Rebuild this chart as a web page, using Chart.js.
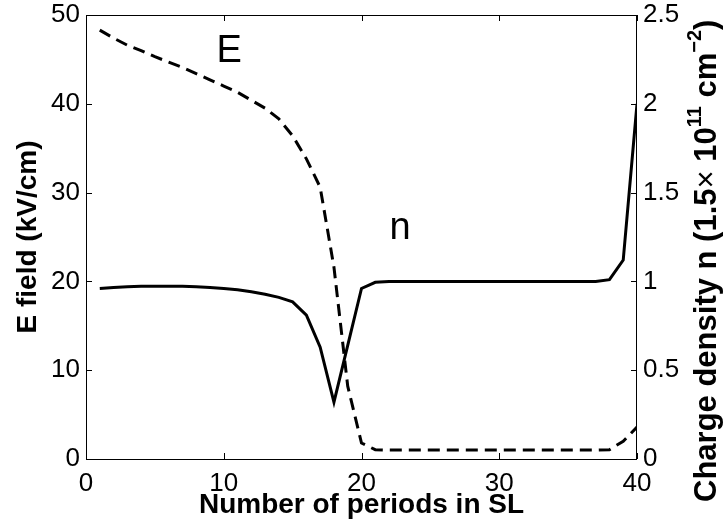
<!DOCTYPE html>
<html>
<head>
<meta charset="utf-8">
<script src="https://cdn.jsdelivr.net/npm/chart.js@4.4.0/dist/chart.umd.min.js"></script>
<style>
    body { margin: 0; padding: 0; background: #fff; overflow: hidden; }
</style>
</head>
<body>
<canvas id="chartCanvas" width="723" height="529"></canvas>
<script>
// Values, one point per SL period
const periods = [1, 2, 3, 4, 5, 6, 7, 8, 9, 10, 11, 12, 13, 14, 15, 16, 17, 18, 19, 20,
    21, 22, 23, 24, 25, 26, 27, 28, 29, 30, 31, 32, 33, 34, 35, 36, 37, 38, 39, 40];

// E field, kV/cm (left axis)
const eField = [48.3, 47.4, 46.6, 46.0, 45.3, 44.7, 44.1, 43.4, 42.7, 42.0,
    41.3, 40.4, 39.5, 38.3, 36.4, 33.8, 30.6, 21.6, 8.2, 1.8,
    1.05, 1.0, 1.0, 1.0, 1.0, 1.0, 1.0, 1.0, 1.0, 1.0,
    1.0, 1.0, 1.0, 1.0, 1.0, 1.0, 1.0, 1.05, 2.0, 3.6];

// charge density n, units of 1.5e11 cm^-2 (right axis)
const chargeDensity = [0.960, 0.965, 0.970, 0.972, 0.973, 0.973, 0.972, 0.970, 0.966, 0.960,
    0.953, 0.942, 0.928, 0.910, 0.885, 0.810, 0.630, 0.320, 0.640, 0.960,
    0.995, 1.0, 1.0, 1.0, 1.0, 1.0, 1.0, 1.0, 1.0, 1.0,
    1.0, 1.0, 1.0, 1.0, 1.0, 1.0, 1.0, 1.01, 1.12, 2.0];

const xTicks = [0, 10, 20, 30, 40];
const leftTicks = [0, 10, 20, 30, 40, 50];
const rightTicks = [0, 0.5, 1, 1.5, 2, 2.5];

// where the curve names sit, in data units
const eLabel = { x: 10.4, y: 45.9, text: 'E' };
const nLabel = { x: 22.8, y: 26.0, text: 'n' };

const FONT = '"Liberation Sans", Arial, Helvetica, sans-serif';

const setTicks = (values) => (scale) => {
    scale.ticks = values.map((v) => ({ value: v }));
};

// fixed axis sizes so the plot box lands where it is in the figure
const fitWidth = (w) => (scale) => {
    scale.width = w;
    scale.paddingTop = 0;
    scale.paddingBottom = 0;
};

// box, inward tick marks, curve names and the right axis title
const framePlugin = {
    id: 'frame',
    afterDraw(chart) {
        const { ctx, chartArea: a, scales } = chart;
        const len = 6;
        ctx.save();
        ctx.strokeStyle = '#000';
        ctx.lineWidth = 1;
        ctx.strokeRect(a.left + 0.5, a.top + 0.5, a.right - a.left - 1, a.bottom - a.top);

        ctx.beginPath();
        xTicks.forEach((v) => {
            const px = Math.round(scales.x.getPixelForValue(v)) + 0.5;
            ctx.moveTo(px, a.bottom);
            ctx.lineTo(px, a.bottom - len);
            ctx.moveTo(px, a.top);
            ctx.lineTo(px, a.top + len);
        });
        leftTicks.forEach((v) => {
            const py = Math.round(scales.y.getPixelForValue(v)) + 0.5;
            ctx.moveTo(a.left, py);
            ctx.lineTo(a.left + len, py);
        });
        rightTicks.forEach((v) => {
            const py = Math.round(scales.y2.getPixelForValue(v)) + 0.5;
            ctx.moveTo(a.right, py);
            ctx.lineTo(a.right - len, py);
        });
        ctx.stroke();

        ctx.fillStyle = '#000';
        ctx.textAlign = 'center';
        ctx.textBaseline = 'middle';
        ctx.font = '38px ' + FONT;
        [eLabel, nLabel].forEach((l) => {
            ctx.fillText(l.text, scales.x.getPixelForValue(l.x), scales.y.getPixelForValue(l.y));
        });

        // right title, rotated, with superscripts
        const parts = [
            { t: 'Charge density n (1.5', f: 'bold 31px ' + FONT, up: 0 },
            { t: '\u00D7', f: '31px ' + FONT, up: 0 },
            { t: ' 10', f: 'bold 31px ' + FONT, up: 0 },
            { t: '11', f: 'bold 20px ' + FONT, up: 12 },
            { t: ' cm', f: 'bold 31px ' + FONT, up: 0 },
            { t: '\u22122', f: 'bold 20px ' + FONT, up: 12 },
            { t: ')', f: 'bold 31px ' + FONT, up: 0 },
        ];
        ctx.translate(707, 502);
        ctx.rotate(-Math.PI / 2);
        ctx.textAlign = 'left';
        let pos = 0;
        parts.forEach((p) => {
            ctx.font = p.f;
            ctx.fillText(p.t, pos, -p.up);
            pos += ctx.measureText(p.t).width;
        });
        ctx.restore();
    },
};

const ctx = document.getElementById('chartCanvas').getContext('2d');
new Chart(ctx, {
    type: 'line',
    data: {
        labels: periods,
        datasets: [
            {
                label: 'E',
                data: periods.map((p, i) => ({ x: p, y: eField[i] })),
                yAxisID: 'y',
                borderColor: '#000',
                borderWidth: 3,
                borderDash: [12, 7],
                pointRadius: 0,
                fill: false,
            },
            {
                label: 'n',
                data: periods.map((p, i) => ({ x: p, y: chargeDensity[i] })),
                yAxisID: 'y2',
                borderColor: '#000',
                borderWidth: 3,
                pointRadius: 0,
                fill: false,
            },
        ],
    },
    options: {
        responsive: false,
        animation: false,
        devicePixelRatio: 1,
        layout: { padding: { top: 15, left: 0, right: 0, bottom: 0 } },
        plugins: { legend: { display: false }, tooltip: { enabled: false } },
        scales: {
            x: {
                type: 'linear',
                min: 0,
                max: 40,
                afterBuildTicks: setTicks(xTicks),
                afterFit: (scale) => { scale.height = 70; },
                grid: { display: false, drawTicks: false },
                border: { display: false },
                ticks: { color: '#000', font: { family: FONT, size: 26 }, padding: 9, maxRotation: 0 },
                title: {
                    display: true,
                    text: 'Number of periods in SL',
                    color: '#000',
                    font: { family: FONT, size: 28, weight: 'bold' },
                    padding: { top: 0, bottom: 7 },
                },
            },
            y: {
                position: 'left',
                min: 0,
                max: 50,
                afterBuildTicks: setTicks(leftTicks),
                afterFit: fitWidth(86),
                grid: { display: false, drawTicks: false },
                border: { display: false },
                ticks: { color: '#000', font: { family: FONT, size: 26 }, padding: 6 },
                title: {
                    display: true,
                    text: 'E field (kV/cm)',
                    color: '#000',
                    font: { family: FONT, size: 28, weight: 'bold' },
                    padding: { top: 11, bottom: 0 },
                },
            },
            y2: {
                position: 'right',
                min: 0,
                max: 2.5,
                afterBuildTicks: setTicks(rightTicks),
                afterFit: fitWidth(86),
                grid: { display: false, drawTicks: false },
                border: { display: false },
                ticks: { color: '#000', font: { family: FONT, size: 26 }, padding: 6, callback: (v) => String(v) },
            },
        },
    },
    plugins: [framePlugin],
});
</script>
</body>
</html>
